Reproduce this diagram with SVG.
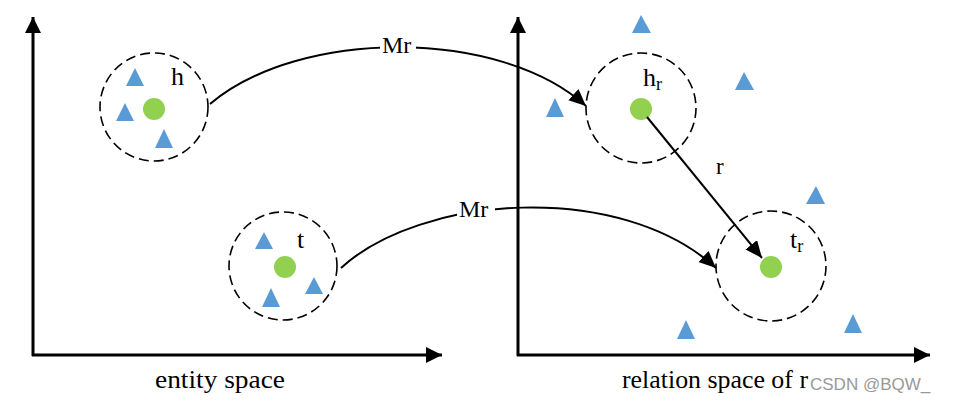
<svg xmlns="http://www.w3.org/2000/svg" width="958" height="406" viewBox="0 0 958 406">
<style>
.ax{stroke:#000;stroke-width:3;fill:none}
.cir{fill:none;stroke:#000;stroke-width:1.6;stroke-dasharray:10 5}
.dot{fill:#92d050}
.tri{fill:#5b9bd5}
.con{fill:none;stroke:#000;stroke-width:2}
.lbl{font-family:"Liberation Serif","Times New Roman",serif;fill:#000}
.wm{font-family:"Liberation Sans",Arial,sans-serif;fill:#999}
</style>
<defs>
<marker id="axh" markerUnits="userSpaceOnUse" markerWidth="18" markerHeight="18" refX="16" refY="8" orient="auto"><path d="M0,0 L16,8 L0,16 z" fill="#000"/></marker>
<marker id="ah" markerUnits="userSpaceOnUse" markerWidth="20" markerHeight="16" refX="17" refY="7.5" orient="auto"><path d="M0,0 L17,7.5 L0,15 z" fill="#000"/></marker>
</defs>
<g id="axes">
<path class="ax" d="M33,356 L33,17" marker-end="url(#axh)"/>
<path class="ax" d="M32,355 L442,355" marker-end="url(#axh)"/>
<path class="ax" d="M518,356 L518,17" marker-end="url(#axh)"/>
<path class="ax" d="M517,355 L930,355" marker-end="url(#axh)"/>
</g>
<g id="node-h">
<circle class="cir" cx="154" cy="107" r="54"/>
<polygon class="tri" points="135,68 126,86 144,86"/>
<polygon class="tri" points="125,103 116,121 134,121"/>
<polygon class="tri" points="164,129 155,148 173,148"/>
<circle class="dot" cx="154" cy="109" r="11"/>
<text class="lbl" x="171" y="85" font-size="26">h</text>
</g>
<g id="node-t">
<circle class="cir" cx="283" cy="266" r="54"/>
<polygon class="tri" points="264,232 255,249 273,249"/>
<polygon class="tri" points="314,277 305,294 323,294"/>
<polygon class="tri" points="271,288 262,307 280,307"/>
<circle class="dot" cx="285" cy="267" r="11"/>
<text class="lbl" x="297" y="248" font-size="26">t</text>
</g>
<g id="node-hr">
<circle class="cir" cx="641" cy="108" r="55"/>
<circle class="dot" cx="641" cy="109" r="11"/>
<text class="lbl" x="643" y="86" font-size="26">h<tspan font-size="18" dy="4">r</tspan></text>
</g>
<g id="node-tr">
<circle class="cir" cx="771" cy="266" r="55"/>
<circle class="dot" cx="771" cy="267" r="11"/>
<text class="lbl" x="790" y="248" font-size="26">t<tspan font-size="18" dy="4">r</tspan></text>
</g>
<g id="scatter">
<polygon class="tri" points="641,15 632,33 651,33"/>
<polygon class="tri" points="744,72 735,90 754,90"/>
<polygon class="tri" points="555,98 546,117 564,117"/>
<polygon class="tri" points="816,186 806,204 825,204"/>
<polygon class="tri" points="853,314 844,333 862,333"/>
<polygon class="tri" points="686,320 677,339 695,339"/>
</g>
<g id="connectors">
<path class="con" d="M210,104 C300,28 500,28 586,106" marker-end="url(#ah)"/>
<path class="con" d="M341,268 C420,195 620,180 716,268" marker-end="url(#ah)"/>
<path class="con" d="M647,117 L762,258" marker-end="url(#ah)"/>
<rect x="380" y="33" width="36" height="24" fill="#fff"/>
<rect x="457" y="197" width="38" height="24" fill="#fff"/>
<text class="lbl" x="382" y="53" font-size="24">Mr</text>
<text class="lbl" x="459" y="217" font-size="24">Mr</text>
<text class="lbl" x="716" y="174" font-size="23">r</text>
</g>
<g id="labels">
<text class="lbl" x="155" y="388" font-size="25" textLength="130" lengthAdjust="spacingAndGlyphs">entity space</text>
<text class="lbl" x="622" y="388" font-size="25" textLength="186" lengthAdjust="spacingAndGlyphs">relation space of r</text>
<text class="wm" x="810" y="390" font-size="17">CSDN @BQW_</text>
</g>
</svg>
